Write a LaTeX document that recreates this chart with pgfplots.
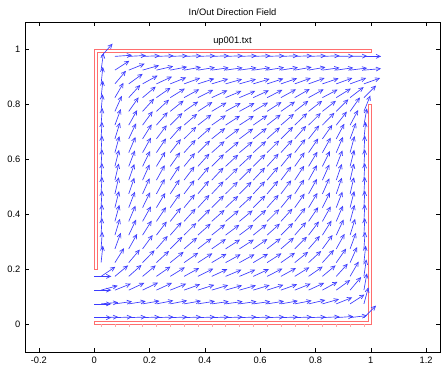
\documentclass[border=0pt]{standalone}
\usepackage{fontspec}
\setmainfont{Liberation Sans}
\usepackage{pgfplots}
\pgfplotsset{compat=1.18}
\usepackage{pgfplotstable}
\usetikzlibrary{arrows.meta}
\definecolor{qblue}{RGB}{60,60,255}
\definecolor{wall}{RGB}{255,110,110}

% direction field: x, y = arrow tail, a = direction angle (degrees)
\pgfplotstableread{
x y a
0.000 0.025 0
0.000 0.075 0
0.000 0.125 0
0.000 0.175 0
0.025 0.025 2
0.075 0.025 2
0.125 0.025 2
0.175 0.025 2
0.225 0.025 2
0.275 0.025 2
0.325 0.025 2
0.375 0.025 2
0.425 0.025 2
0.475 0.025 2
0.525 0.025 2
0.575 0.025 2
0.625 0.025 2
0.675 0.025 2
0.725 0.025 2
0.775 0.025 2
0.825 0.025 3
0.875 0.025 4
0.925 0.025 7
0.975 0.025 45
0.025 0.075 5
0.075 0.075 8
0.125 0.075 9
0.175 0.075 10
0.225 0.075 11
0.275 0.075 11
0.325 0.075 10
0.375 0.075 9
0.425 0.075 8
0.475 0.075 8
0.525 0.075 8
0.575 0.075 8
0.625 0.075 9
0.675 0.075 10
0.725 0.075 11
0.775 0.075 13
0.825 0.075 16
0.875 0.075 22
0.925 0.075 33
0.975 0.075 75
0.025 0.125 15
0.075 0.125 22
0.125 0.125 25
0.175 0.125 26
0.225 0.125 25
0.275 0.125 22
0.325 0.125 20
0.375 0.125 18
0.425 0.125 17
0.475 0.125 16
0.525 0.125 16
0.575 0.125 17
0.625 0.125 18
0.675 0.125 20
0.725 0.125 22
0.775 0.125 25
0.825 0.125 29
0.875 0.125 36
0.925 0.125 50
0.975 0.125 80
0.025 0.175 34
0.075 0.175 40
0.125 0.175 42
0.175 0.175 40
0.225 0.175 35
0.275 0.175 32
0.325 0.175 29
0.375 0.175 27
0.425 0.175 25
0.475 0.175 23
0.525 0.175 23
0.575 0.175 25
0.625 0.175 27
0.675 0.175 29
0.725 0.175 32
0.775 0.175 35
0.825 0.175 40
0.875 0.175 48
0.925 0.175 60
0.975 0.175 82
0.025 0.225 84
0.075 0.225 58
0.125 0.225 50
0.175 0.225 46
0.225 0.225 43
0.275 0.225 39
0.325 0.225 35
0.375 0.225 33
0.425 0.225 31
0.475 0.225 29
0.525 0.225 29
0.575 0.225 31
0.625 0.225 33
0.675 0.225 35
0.725 0.225 39
0.775 0.225 43
0.825 0.225 48
0.875 0.225 55
0.925 0.225 66
0.975 0.225 84
0.025 0.275 86
0.075 0.275 70
0.125 0.275 61
0.175 0.275 54
0.225 0.275 49
0.275 0.275 45
0.325 0.275 41
0.375 0.275 38
0.425 0.275 35
0.475 0.275 33
0.525 0.275 33
0.575 0.275 35
0.625 0.275 38
0.675 0.275 41
0.725 0.275 45
0.775 0.275 49
0.825 0.275 54
0.875 0.275 61
0.925 0.275 70
0.975 0.275 86
0.025 0.325 87
0.075 0.325 73
0.125 0.325 65
0.175 0.325 58
0.225 0.325 53
0.275 0.325 49
0.325 0.325 45
0.375 0.325 42
0.425 0.325 39
0.475 0.325 37
0.525 0.325 37
0.575 0.325 39
0.625 0.325 42
0.675 0.325 45
0.725 0.325 49
0.775 0.325 53
0.825 0.325 58
0.875 0.325 65
0.925 0.325 73
0.975 0.325 87
0.025 0.375 87
0.075 0.375 75
0.125 0.375 67
0.175 0.375 61
0.225 0.375 56
0.275 0.375 52
0.325 0.375 48
0.375 0.375 45
0.425 0.375 42
0.475 0.375 40
0.525 0.375 40
0.575 0.375 42
0.625 0.375 45
0.675 0.375 48
0.725 0.375 52
0.775 0.375 56
0.825 0.375 61
0.875 0.375 67
0.925 0.375 75
0.975 0.375 87
0.025 0.425 87
0.075 0.425 76
0.125 0.425 69
0.175 0.425 64
0.225 0.425 59
0.275 0.425 55
0.325 0.425 51
0.375 0.425 48
0.425 0.425 45
0.475 0.425 43
0.525 0.425 43
0.575 0.425 45
0.625 0.425 48
0.675 0.425 51
0.725 0.425 55
0.775 0.425 59
0.825 0.425 64
0.875 0.425 69
0.925 0.425 76
0.975 0.425 87
0.025 0.475 87
0.075 0.475 77
0.125 0.475 71
0.175 0.475 66
0.225 0.475 61
0.275 0.475 57
0.325 0.475 53
0.375 0.475 50
0.425 0.475 47
0.475 0.475 45
0.525 0.475 45
0.575 0.475 47
0.625 0.475 50
0.675 0.475 53
0.725 0.475 57
0.775 0.475 61
0.825 0.475 66
0.875 0.475 71
0.925 0.475 77
0.975 0.475 87
0.025 0.525 87
0.075 0.525 77
0.125 0.525 71
0.175 0.525 66
0.225 0.525 61
0.275 0.525 57
0.325 0.525 53
0.375 0.525 50
0.425 0.525 47
0.475 0.525 45
0.525 0.525 45
0.575 0.525 47
0.625 0.525 50
0.675 0.525 53
0.725 0.525 57
0.775 0.525 61
0.825 0.525 66
0.875 0.525 71
0.925 0.525 77
0.975 0.525 87
0.025 0.575 87
0.075 0.575 76
0.125 0.575 69
0.175 0.575 64
0.225 0.575 59
0.275 0.575 55
0.325 0.575 51
0.375 0.575 48
0.425 0.575 45
0.475 0.575 43
0.525 0.575 43
0.575 0.575 45
0.625 0.575 48
0.675 0.575 51
0.725 0.575 55
0.775 0.575 59
0.825 0.575 64
0.875 0.575 69
0.925 0.575 76
0.975 0.575 87
0.025 0.625 87
0.075 0.625 75
0.125 0.625 67
0.175 0.625 61
0.225 0.625 56
0.275 0.625 52
0.325 0.625 48
0.375 0.625 45
0.425 0.625 42
0.475 0.625 40
0.525 0.625 40
0.575 0.625 42
0.625 0.625 45
0.675 0.625 48
0.725 0.625 52
0.775 0.625 56
0.825 0.625 61
0.875 0.625 67
0.925 0.625 75
0.975 0.625 87
0.025 0.675 87
0.075 0.675 73
0.125 0.675 65
0.175 0.675 58
0.225 0.675 53
0.275 0.675 49
0.325 0.675 45
0.375 0.675 42
0.425 0.675 39
0.475 0.675 37
0.525 0.675 37
0.575 0.675 39
0.625 0.675 42
0.675 0.675 45
0.725 0.675 49
0.775 0.675 52
0.825 0.675 55
0.875 0.675 62
0.925 0.675 70
0.975 0.675 84
0.025 0.725 86
0.075 0.725 70
0.125 0.725 61
0.175 0.725 54
0.225 0.725 49
0.275 0.725 45
0.325 0.725 41
0.375 0.725 38
0.425 0.725 35
0.475 0.725 33
0.525 0.725 33
0.575 0.725 35
0.625 0.725 38
0.675 0.725 41
0.725 0.725 44
0.775 0.725 45
0.825 0.725 46
0.875 0.725 52
0.925 0.725 62
0.975 0.725 80
0.025 0.775 85
0.075 0.775 66
0.125 0.775 55
0.175 0.775 48
0.225 0.775 43
0.275 0.775 39
0.325 0.775 35
0.375 0.775 33
0.425 0.775 31
0.475 0.775 29
0.525 0.775 29
0.575 0.775 31
0.625 0.775 33
0.675 0.775 35
0.725 0.775 38
0.775 0.775 38
0.825 0.775 38
0.875 0.775 45
0.925 0.775 55
0.975 0.775 68
0.025 0.825 84
0.075 0.825 60
0.125 0.825 48
0.175 0.825 40
0.225 0.825 35
0.275 0.825 32
0.325 0.825 29
0.375 0.825 27
0.425 0.825 25
0.475 0.825 23
0.525 0.825 23
0.575 0.825 25
0.625 0.825 27
0.675 0.825 29
0.725 0.825 30
0.775 0.825 29
0.825 0.825 28
0.875 0.825 32
0.925 0.825 38
0.975 0.825 45
0.025 0.875 84
0.075 0.875 50
0.125 0.875 36
0.175 0.875 29
0.225 0.875 25
0.275 0.875 22
0.325 0.875 20
0.375 0.875 18
0.425 0.875 17
0.475 0.875 16
0.525 0.875 16
0.575 0.875 17
0.625 0.875 18
0.675 0.875 19
0.725 0.875 20
0.775 0.875 20
0.825 0.875 19
0.875 0.875 20
0.925 0.875 20
0.975 0.875 20
0.025 0.925 82
0.075 0.925 33
0.125 0.925 22
0.175 0.925 16
0.225 0.925 13
0.275 0.925 11
0.325 0.925 10
0.375 0.925 9
0.425 0.925 8
0.475 0.925 8
0.525 0.925 8
0.575 0.925 8
0.625 0.925 9
0.675 0.925 9
0.725 0.925 10
0.775 0.925 10
0.825 0.925 8
0.875 0.925 8
0.925 0.925 7
0.975 0.925 5
0.025 0.975 48
0.075 0.975 4
0.125 0.975 3
0.175 0.975 2
0.225 0.975 2
0.275 0.975 2
0.325 0.975 2
0.375 0.975 2
0.425 0.975 2
0.475 0.975 2
0.525 0.975 2
0.575 0.975 2
0.625 0.975 2
0.675 0.975 2
0.725 0.975 2
0.775 0.975 2
0.825 0.975 2
0.875 0.975 1
0.925 0.975 1
0.975 0.975 0
}\field

\begin{document}
\begin{tikzpicture}
\path[use as bounding box] (-18.75pt,-9pt) rectangle (312.75pt,264pt);
\begin{axis}[
  at={(0,0)}, anchor=south west,
  scale only axis, width=311.25pt, height=247.5pt,
  xmin=-0.25, xmax=1.25, ymin=-0.1, ymax=1.1,
  xtick={-0.2,0,0.2,0.4,0.6,0.8,1,1.2},
  ytick={0,0.2,0.4,0.6,0.8,1},
  tick align=inside, major tick length=3pt,
  tick pos=both,
  tick style={black, line width=0.4pt},
  ticklabel style={font=\fontsize{7}{8}\selectfont},
  /pgf/number format/assume math mode=true,
  axis line style={line width=0.5pt},
  every axis title/.style={at={(0.5,1)}, anchor=center, yshift=7.5pt, font=\fontsize{7}{8}\selectfont},
  title={In/Out Direction Field},
  clip=false,
]
\addplot[wall, line width=0.4pt] coordinates {(0,0.2) (0,1) (1,1) (1,0.99) (0.01,0.99) (0.01,0.2) (0,0.2)};
\addplot[wall, line width=0.4pt] coordinates {(1,0.8) (1,0) (0,0) (0,0.01) (0.99,0.01) (0.99,0.8) (1,0.8)};
\addplot[wall!60, only marks, mark=|, mark size=1pt, mark options={line width=0.3pt}] coordinates {
(0.025,-0.004) (0.075,-0.004) (0.125,-0.004) (0.175,-0.004) (0.225,-0.004)
(0.275,-0.004) (0.325,-0.004) (0.375,-0.004) (0.425,-0.004) (0.475,-0.004)
(0.525,-0.004) (0.575,-0.004) (0.625,-0.004) (0.675,-0.004) (0.725,-0.004)
(0.775,-0.004) (0.825,-0.004) (0.875,-0.004) (0.925,-0.004) (0.975,-0.004)};
\addplot[qblue, line width=0.5pt, -{Straight Barb[length=3.2pt,width=3pt]},
  quiver={u={0.062*cos(\thisrow{a})}, v={0.062*sin(\thisrow{a})}}]
  table[x=x, y=y] {\field};
\node[font=\fontsize{7}{8}\selectfont] at (axis cs:0.5,1.03) {up001.txt};
\end{axis}
\end{tikzpicture}
\end{document}
